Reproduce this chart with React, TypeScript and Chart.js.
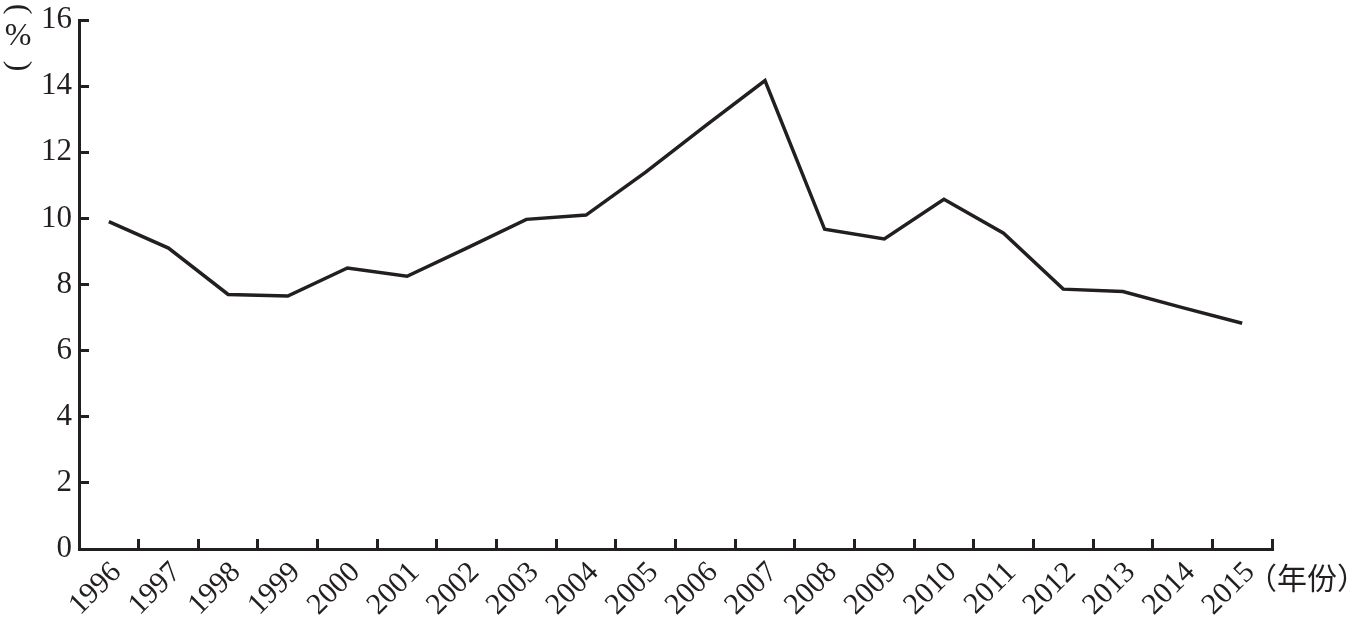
import React, { useEffect, useRef } from "react";
import { Chart, registerables } from "chart.js";

Chart.register(...registerables);

const years = ["1996","1997","1998","1999","2000","2001","2002","2003","2004","2005","2006","2007","2008","2009","2010","2011","2012","2013","2014","2015"];
const rates = [9.9, 9.1, 7.7, 7.65, 8.5, 8.25, 9.1, 9.97, 10.1, 11.4, 12.8, 14.17, 9.67, 9.38, 10.58, 9.55, 7.86, 7.79, 7.3, 6.83];
const yTicks = [0, 2, 4, 6, 8, 10, 12, 14, 16];
const yUnit = "%";
const xUnit = "（年份）";

const INK = "#231f20";
const SERIF = "'Liberation Serif', 'DejaVu Serif', serif";

const extraText = {
  id: "extraText",
  afterDraw(chart: any) {
    const { ctx, chartArea } = chart;
    ctx.save();
    ctx.fillStyle = INK;
    const cx = chartArea.left - 61;
    ctx.textAlign = "center";
    ctx.textBaseline = "middle";
    ctx.font = `32px ${SERIF}`;
    ctx.save();
    ctx.translate(cx, chartArea.top - 11);
    ctx.rotate(Math.PI / 2);
    ctx.fillText("(", 0, 0);
    ctx.restore();
    ctx.font = `32px ${SERIF}`;
    ctx.fillText(yUnit, cx, chartArea.top + 17);
    ctx.save();
    ctx.translate(cx, chartArea.top + 46);
    ctx.rotate(Math.PI / 2);
    ctx.fillText(")", 0, 0);
    ctx.restore();
    ctx.font = `30px 'Noto Sans CJK SC', sans-serif`;
    ctx.textAlign = "left";
    ctx.textBaseline = "middle";
    ctx.fillText(xUnit, chartArea.right - 25, chartArea.bottom + 29);
    ctx.restore();
  },
};

export default function App() {
  const ref = useRef<HTMLCanvasElement | null>(null);
  useEffect(() => {
    if (!ref.current) return;
    const chart = new Chart(ref.current, {
      type: "line",
      data: {
        labels: years,
        datasets: [
          {
            data: rates,
            borderColor: INK,
            borderWidth: 3.5,
            pointRadius: 0,
            tension: 0,
            borderJoinStyle: "miter",
            fill: false,
          },
        ],
      },
      options: {
        responsive: false,
        animation: false,
        layout: { padding: { top: 20, right: 87, left: 0, bottom: 0 } },
        plugins: { legend: { display: false }, tooltip: { enabled: false } },
        scales: {
          x: {
            type: "category",
            offset: true,
            grid: {
              offset: true,
              drawOnChartArea: false,
              drawTicks: true,
              tickLength: -10,
              tickWidth: 3,
              tickColor: INK,
            },
            border: { display: true, color: INK, width: 3 },
            ticks: {
              color: INK,
              font: { family: SERIF, size: 30 },
              minRotation: 45,
              maxRotation: 45,
              padding: 16,
              labelOffset: 8,
              autoSkip: false,
            },
            afterFit(scale: any) {
              scale.height = 72;
              scale.paddingLeft = 0;
              scale.paddingRight = 0;
            },
          },
          y: {
            min: 0,
            max: 16,
            afterBuildTicks(scale: any) {
              scale.ticks = yTicks.map((v) => ({ value: v }));
            },
            grid: {
              drawOnChartArea: false,
              drawTicks: true,
              tickLength: -10,
              tickWidth: 3,
              tickColor: INK,
            },
            border: { display: true, color: INK, width: 3 },
            ticks: {
              color: INK,
              font: { family: SERIF, size: 31 },
              padding: 17,
            },
            afterFit(scale: any) {
              scale.width = 79;
              scale.paddingTop = 0;
              scale.paddingBottom = 0;
            },
          },
        },
      },
      plugins: [extraText],
    });
    return () => chart.destroy();
  }, []);
  return (
    <div style={{ position: "absolute", left: 0, top: 0, width: 1359, height: 621, background: "#fff" }}>
      <canvas ref={ref} width={1359} height={621} style={{ display: "block" }} />
    </div>
  );
}
